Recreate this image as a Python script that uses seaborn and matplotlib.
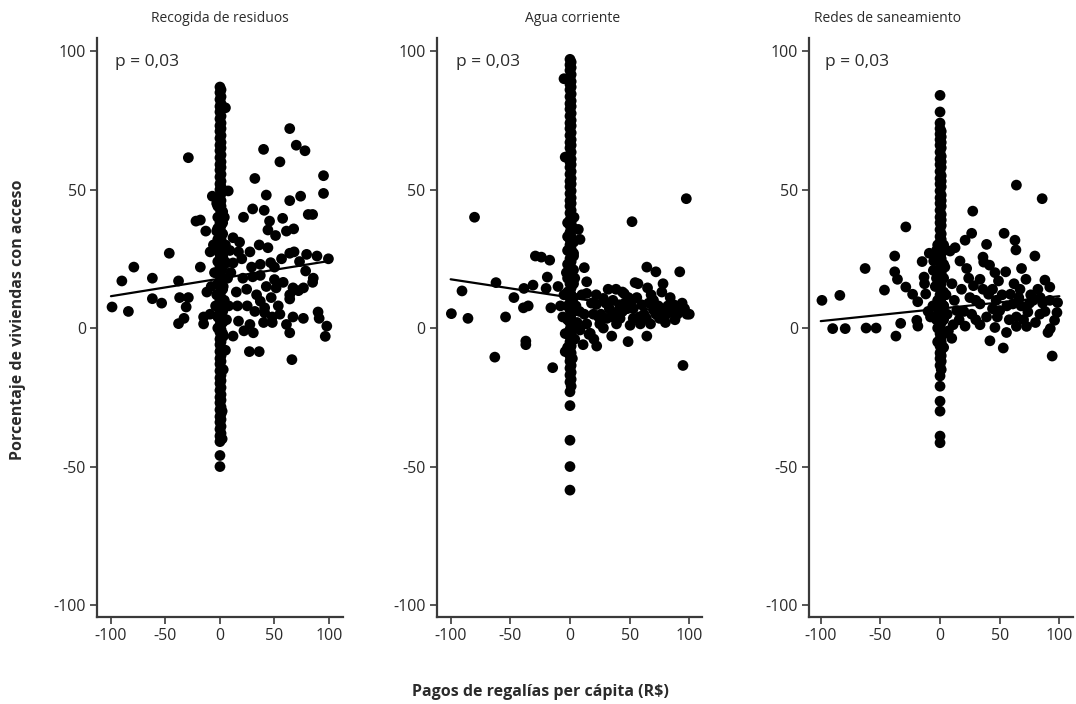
import matplotlib
matplotlib.use("Agg")
import matplotlib.pyplot as plt
import pandas as pd
import seaborn as sns

sns.set_theme(style="white")
plt.rcParams["font.family"] = ["Open Sans", "DejaVu Sans"]

# ---------------------------------------------------------------- data
panel_titles = ["Recogida de residuos", "Agua corriente", "Redes de saneamiento"]
p_labels = ["p = 0,03", "p = 0,03", "p = 0,03"]
x_ticks = [-100, -50, 0, 50, 100]
y_ticks = [-100, -50, 0, 50, 100]
x_label = "Pagos de regalías per cápita (R$)"
y_label = "Porcentaje de viviendas con acceso"

# municipalities with (almost) no royalty change: x position -> list of y values
residuos_core = {
    0: [87, 85, 82.5, 80, 78, 75.5, 73, 71, 68.5, 66, 64, 61.5, 59, 57, 54.5,
        52, 50, 47.5, 45, 43, 40.5, 38, 36, 33.5, 31, 29, 26.5, 24, 22, 19.5,
        17, 15, 12.5, 10, 8, 5.5, 3, 1, -1.5, -4, -6, -8.5, -11, -13, -15.5,
        -18, -20, -22.5, -25, -27, -29.5, -32, -34, -36.5, -39, -41, -46, -50],
    1: [86, 83.5, 81, 79, 76.5, 74, 72, 69.5, 67, 65, 62.5, 60, 58, 55.5, 53, 51,
        48.5, 46, 44, 41.5, 39, 37, 34.5, 32, 30, 27.5, 25, 23, 20.5, 18, 16, 13.5,
        11, 9, 6.5, 4, 2, -0.5, -3, -5, -7.5, -10, -12, -14.5, -17, -19, -21.5, -24,
        -26, -28.5, -31, -33, -35.5, -38, -40],
    -2: [44, 40, 36, 32, 28, 24, 20, 16, 12, 8, 4, 0],
    2.5: [42, 38, 34, 30, 26, 22, 18, 14, 10, 6, 2, -2],
}
residuos_pts = [
    (-99, 7.6), (-90, 17), (-84, 6), (-79, 22), (-62, 18), (-62, 10.6), (-53.5, 9),
    (-46.5, 27), (-38, 17), (-37, 11), (-29, 11), (-31, 7.6), (-33, 3.5), (-38, 1.6),
    (-29, 61.5), (-22, 38.6), (-18, 39), (-13, 35), (-18, 22), (-15, 4), (-15, 1.5),
    (-9, 27.5), (-7, 47.6), (-12, 13),
    (64, 72), (70, 66), (78, 64), (40, 64.5), (55, 60), (95, 55), (95, 48.6), (32, 54),
    (42.5, 48), (64, 46), (74, 47.6), (30, 43), (40.6, 42.5), (21.6, 40), (57.5, 39.6),
    (81, 41), (85, 41), (45.5, 38.6), (44, 35.4), (51, 33.4), (61, 35), (67.6, 35.8),
    (12, 32.6), (7.6, 49.5), (36, 30), (27.5, 27.5), (17, 27.5), (44, 29), (56.5, 25),
    (64, 27), (68, 27.5), (79.5, 26.6), (89, 26), (99.5, 25), (37, 23), (29, 22),
    (46.5, 23.6), (50, 22), (73, 24), (78.6, 20.6), (85.6, 18), (85, 16.5), (21, 18),
    (30, 18.5), (37, 19), (50, 17.5), (58, 16.5), (67, 14.5), (72, 13.5), (76.6, 14.5),
    (64, 12), (64, 10.5), (24.5, 14), (33.6, 12), (37, 9.7), (41, 7.3), (47, 11),
    (53.5, 8), (55, 5), (48, 4), (48, 2), (40, 2), (41, 5.5), (27.5, 1.3), (17, 2.5),
    (30.6, -1.7), (12, -2.9), (61, 1.3), (64, -1.7), (67, 4), (76.5, 3.5), (90, 5.8),
    (91, 3.5), (98, 0.7), (96.6, -3), (51.5, 14.5), (42.5, 15), (15, 13), (12, 23.5),
    (6, 23.5), (27, -8.5), (36, -8.5), (66, -11.4),
    (5, 30), (7, 18), (4, 10), (8, 8), (6, 3), (10, 20), (9, 28), (-5, 20), (-6, 30),
    (-4, 8), (-8, 15), (-9, 5), (4, 40), (3, -3), (5, -8), (3, -15), (-3, 45), (16, 8),
    (20, 25), (18, 31), (25, 8), (32, 6), (22, -1), (3, 15), (-3, 12), (3, 25), (-3, 35),
    (2, -30), (2, -40), (5, 79.5),
]
residuos_fit_x = [-100, 100]
residuos_fit_y = [11.5, 24.2]

agua_core = {
    0: [97, 95, 93, 90.5, 88, 86, 83.5, 81, 79, 76.5, 74, 72, 69.5, 67, 65, 62.5,
        60, 58, 55.5, 53, 51, 48.5, 46, 44, 41.5, 39, 37, 34.5, 32, 30, 27.5, 25,
        23, 20.5, 18, 16, 13.5, 11, 9, 6.5, 4, 2, -0.5, -3, -5, -7.5, -10, -12,
        -14.5, -17, -19.5, -23, -28, -40.5, -50, -58.5],
    1: [96, 94, 91.5, 89, 87, 84.5, 82, 80, 77.5, 75, 73, 70.5, 68, 66, 63.5, 61, 59,
        56.5, 54, 52, 49.5, 47, 45, 42.5, 40, 38, 35.5, 33, 31, 28.5, 26, 24, 21.5, 19,
        17, 14.5, 12, 10, 7.5, 5, 3, 0.5, -2, -4, -6.5, -9, -11, -13.5, -16, -18.5, -21],
    -2: [38, 33, 28, 23, 18, 13, 8, 3, -2, -7],
    3: [36, 31, 26, 21, 16, 11, 6, 1, -4],
}
agua_pts = [
    (-80, 40), (52, 38.4), (97.5, 46.7), (-99.4, 5.2), (-90.5, 13.4), (-85.5, 3.5),
    (-62, 16.4), (-54, 4), (-47, 11), (-39, 7.3), (-35, 8), (-38.6, 14.3), (-31, 15.5),
    (-29, 26), (-24, 25.6), (-17, 24.5), (-19, 18.4), (-20, 14.3), (-16, 7.3),
    (-37, -4.7), (-37, -6), (3.4, 40), (7, 35.6), (8.4, 32), (12, 21.8), (14, 16.7),
    (14, 12.5), (22, 12), (64.4, 22), (72, 20.3), (92, 20.3), (54.6, 16.4), (57, 16),
    (78, 16), (77, 13), (65, 14.5), (38.6, 14), (45.5, 12.4), (49, 11), (28, 10.7),
    (22, 8.5), (33, 7), (41.6, 8.4), (53, 7), (60, 8.4), (70, 6.5), (87, 8.4), (91.4, 6),
    (98, 5), (81, 5), (19.6, 5), (31, 3.5), (42, 3.5), (53, 3.5), (64, 3.5), (75, 3.5),
    (14, 1.5), (25, 1.5), (39, 1.5), (50.4, 1), (59, 1.5), (67.5, 1.5), (8.4, -0.7),
    (17, -1.9), (35, -2.9), (48.7, -4.9), (64.4, -2.9), (22.4, -6.5), (-63, -10.5),
    (-14.5, -14.3), (94.7, -13.5), (-4, -8.5), (2, -11), (16, -2.3),
    (-5, 90), (-4, 61.7), (3, 27), (-3, 20), (4, 18), (-5, 12), (5, 8), (-6, 4), (6, 2),
    (-4, -2), (4, -4), (8, 6), (10, 12), (-8, 8), (-10, 15), (26, 5), (36, 10), (44, 6),
    (56, 11), (62, 5), (70, 10), (84, 11), (88, 3), (94, 9), (32, 14), (46, 9), (58, 4),
    (74, 8), (80, 2), (86, 6), (28, 0), (40, 6), (52, 10), (66, 9), (76, 7), (96, 7),
    (100, 5), (24, 4), (12, 5), (18, 9), (36, 4), (48, 7), (60, 3), (72, 5), (82, 8),
    (90, 5), (30, 9), (44, 13), (68, 12), (20, -4), (11, -6),
]
agua_fit_x = [-100, 100]
agua_fit_y = [17.6, 4.5]

redes_core = {
    0: [84, 78, 74, 72, 70, 68, 66, 63.5, 61, 59, 56.5, 54, 52, 49.5, 47, 45,
        42.5, 40, 38, 35.5, 33, 31, 28.5, 26, 24, 21.5, 19, 17, 14.5, 12, 10, 7.5,
        5, 3, 0.5, -2, -4, -6.5, -9, -11, -13.5, -17.3, -21, -26.4, -30, -39, -41.4],
    1: [71, 69, 67, 65, 62, 60, 58, 55, 53, 51, 48, 46, 44, 41, 39, 37, 34, 32, 30,
        27, 25, 23, 20, 18, 16, 13, 11, 9, 6, 4, 2, -1, -3, -5, -8, -10, -12, -15],
    -2: [30, 25, 20, 15, 10, 5, 0, -5],
    3: [28, 23, 18, 13, 8, 3, -2, -7],
}
redes_pts = [
    (-99, 10), (-84, 11.8), (-90, -0.2), (-79.5, -0.2), (-62, 0), (-53.6, 0),
    (-62.8, 21.5), (-46.6, 13.7), (-38, 26), (-38, 20.3), (-35.7, 17.6), (-28.7, 36.5),
    (-28.7, 14.8), (-23, 12.2), (-18.7, 9.5), (-33, 1.7), (-37, -2.9), (-19.5, 2.8),
    (-18.6, 0.7), (-13.4, 18.4), (-13, 16), (-12, 12.3), (-5.6, 20.8), (-5.3, 24.2),
    (8.4, 27.8), (12.6, 29), (27.4, 42.2), (26.5, 34.2), (21, 31.7), (39, 30.2),
    (16.7, 24.2), (22.3, 21.5), (36, 25.6), (36.6, 23.8), (41.5, 22.7), (53.7, 34.2),
    (62.8, 31.7), (63.6, 28.2), (64, 51.6), (85.6, 46.7), (79.5, 26), (68.3, 21.5),
    (55, 20.3), (72, 17.6), (87.9, 17.3), (92, 14.8), (98.5, 9.2), (98, 5.6), (96, 2.8),
    (92.4, -0.2), (90.5, -1.6), (33.5, 17.6), (28, 15.3), (49, 17), (40.7, 12.2),
    (59, 12.2), (67, 14), (25, 11), (33.5, 8.7), (47, 10), (61, 8.7), (78, 10), (14, 6.3),
    (26.5, 5), (39, 4), (50, 6.3), (64, 4), (73.6, 5.8), (83.7, 5), (11, 1.2), (21, 0.7),
    (33.5, 1.2), (46, 0.2), (64, 0.6), (72.5, 0.6), (55.7, -1.6), (41.8, -4.6),
    (53, -7.2), (94, -10.1), (9.8, -3.7),
    (4, 22), (-4, 15), (5, 12), (-6, 8), (6, 5), (-3, 3), (7, -1), (-8, 4), (3, 30),
    (-3, 28), (10, 16), (-10, 6), (12, 10), (18, 14), (20, 6), (30, 10), (44, 14),
    (52, 12), (56, 8), (68, 8), (76, 12), (82, 14), (86, 9), (70, 3), (80, 2), (88, 6),
    (58, 3), (44, 7), (30, 3), (16, 3), (36, 14), (48, 4), (62, 16), (75, 9), (84, 11),
    (92, 10), (66, 11), (24, 18), (46, 20), (-15, 24), (-9, 27), (3, 8), (-3, 18),
]
redes_fit_x = [-100, 100]
redes_fit_y = [2.5, 11.5]

core_sets = [residuos_core, agua_core, redes_core]
point_sets = [residuos_pts, agua_pts, redes_pts]
fit_sets = [(residuos_fit_x, residuos_fit_y), (agua_fit_x, agua_fit_y),
            (redes_fit_x, redes_fit_y)]

# ---------------------------------------------------------------- layout
W, H = 1076, 704
fig = plt.figure(figsize=(W / 100, H / 100), dpi=100)
fig.patch.set_facecolor("white")

axes_px = [(97, 245.7), (436.7, 265.0), (809.3, 264.0)]   # left edge, width
x_limits = [(-112.8, 112.6), (-111.7, 110.4), (-109.6, 111.7)]
title_px = [220, 573, 887]
p_px = [115, 456, 825]
bottom_px, top_px = 617, 38
ink = "#3a3a3a"
text_ink = "#2b2b2b"

for i in range(3):
    left, width = axes_px[i]
    ax = fig.add_axes([left / W, (H - bottom_px) / H, width / W, (bottom_px - top_px) / H])
    ax.set_facecolor("white")

    frames = [pd.DataFrame({"x": [float(xv)] * len(ys), "y": ys})
              for xv, ys in core_sets[i].items()]
    frames.append(pd.DataFrame(point_sets[i], columns=["x", "y"]))
    df = pd.concat(frames, ignore_index=True)
    sns.scatterplot(data=df, x="x", y="y", ax=ax, color="black", s=60,
                    edgecolor="none", linewidth=0, legend=False, zorder=3)

    fx, fy = fit_sets[i]
    sns.lineplot(x=fx, y=fy, ax=ax, color="black", linewidth=1.6, zorder=4)

    ax.set_xlim(*x_limits[i])
    ax.set_ylim(-104.3, 104.7)
    ax.set_xticks(x_ticks)
    ax.set_yticks(y_ticks)
    ax.set_xticklabels([str(t) for t in x_ticks])
    ax.set_yticklabels([str(t) for t in y_ticks])
    ax.set_xlabel("")
    ax.set_ylabel("")
    ax.tick_params(axis="both", direction="out", length=5, width=1.2, color=ink,
                   labelsize=11.5, labelcolor=text_ink, pad=3,
                   bottom=True, left=True)
    for side in ("top", "right"):
        ax.spines[side].set_visible(False)
    for side in ("left", "bottom"):
        ax.spines[side].set_color(ink)
        ax.spines[side].set_linewidth(1.6)
    ax.grid(False)

    fig.text(title_px[i] / W, (H - 18) / H, panel_titles[i], ha="center", va="center",
             fontsize=10, color=text_ink)
    fig.text(p_px[i] / W, (H - 62) / H, p_labels[i], ha="left", va="center",
             fontsize=12.5, color=text_ink)

fig.text(540 / W, (H - 692) / H, x_label, ha="center", va="center",
         fontsize=11.5, fontweight="bold", color=text_ink)
fig.text(18 / W, (H - 320) / H, y_label, ha="center", va="center", rotation=90,
         fontsize=11.5, fontweight="bold", color=text_ink)

fig.savefig("out.png", dpi=100, facecolor="white")
